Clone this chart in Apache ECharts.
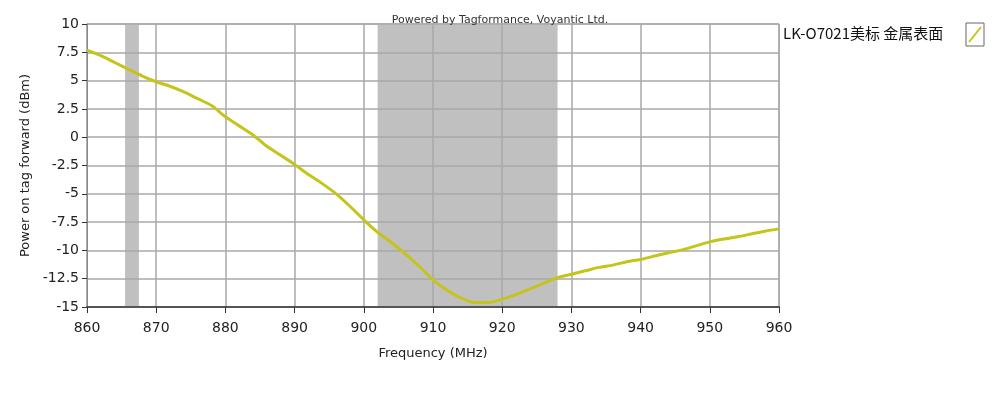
<!DOCTYPE html>
<html><head><meta charset="utf-8">
<script src="https://cdn.jsdelivr.net/npm/echarts@6/dist/echarts.min.js"></script>
<style>html,body{margin:0;padding:0;background:#fff}#c{width:1000px;height:400px}</style>
</head><body><div id="c"></div>
<script>
const freq = [860,862,864,866,868,870,872,874,876,878,880,882,884,886,888,890,892,894,896,898,900,902,904,906,908,910,912,914,916,918,920,922,924,926,928,930,932,934,936,938,940,942,944,946,948,950,952,954,956,958,960];
const power = [7.7,7.2,6.6,6.0,5.4,4.9,4.5,4.0,3.4,2.8,1.8,1.0,0.2,-0.8,-1.6,-2.4,-3.3,-4.1,-5.0,-6.1,-7.3,-8.4,-9.3,-10.3,-11.4,-12.6,-13.5,-14.2,-14.6,-14.6,-14.3,-13.9,-13.4,-12.9,-12.4,-12.1,-11.8,-11.5,-11.3,-11.0,-10.8,-10.5,-10.2,-9.95,-9.6,-9.25,-9.0,-8.8,-8.55,-8.3,-8.1];
const bands = [[865.5,867.5],[902,928]];
const seriesName = 'LK-O7021美标 金属表面';
const titleText = 'Powered by Tagformance, Voyantic Ltd.';
const xName = 'Frequency (MHz)';
const yName = 'Power on tag forward (dBm)';

const font = 'Tahoma, "DejaVu Sans", sans-serif';
const chart = echarts.init(document.getElementById('c'));
chart.setOption({
  animation: false,
  backgroundColor: '#fff',
  title: {text: titleText, left: 495, top: 10, textAlign: 'center',
    textStyle: {fontSize: 11, fontWeight: 'normal', color: '#333', fontFamily: font}},
  grid: {left: 87, right: 221, top: 24, bottom: 93, show: true, borderColor: '#888', borderWidth: 1},
  xAxis: {type: 'value', min: 860, max: 960, interval: 10, z: 5,
    name: xName, nameLocation: 'middle', nameGap: 40,
    nameTextStyle: {fontSize: 13, color: '#222', fontFamily: font},
    axisLine: {onZero: false, lineStyle: {color: '#555', width: 2}},
    axisTick: {show: true, length: 6, lineStyle: {color: '#333'}},
    axisLabel: {fontSize: 14, color: '#222', fontFamily: font, margin: 14},
    splitLine: {show: true, lineStyle: {color: '#a8a8a8', width: 1.5}}},
  yAxis: {type: 'value', min: -15, max: 10, interval: 2.5, z: 5,
    name: yName, nameLocation: 'middle', nameGap: 50, nameRotate: 90,
    nameTextStyle: {fontSize: 13, color: '#222', fontFamily: font},
    axisLine: {show: true, onZero: false, lineStyle: {color: '#888', width: 1}},
    axisTick: {show: true, length: 5, lineStyle: {color: '#333'}},
    axisLabel: {fontSize: 14, color: '#222', fontFamily: font, margin: 8},
    splitLine: {show: true, lineStyle: {color: '#a8a8a8', width: 1.5}}},
  legend: {show: false},
  series: [{
    name: 'bands', type: 'line', data: [], z: 1, silent: true,
    markArea: {silent: true, itemStyle: {color: '#c0c0c0', opacity: 1},
      data: bands.map(b => [{xAxis: b[0]}, {xAxis: b[1]}])}
  }, {
    name: seriesName, type: 'line', showSymbol: false, smooth: 0.3,
    data: freq.map((f, i) => [f, power[i]]),
    lineStyle: {color: '#c4c41a', width: 3},
    z: 10
  }],
  graphic: [
    {type: 'text', left: 783, top: 26, style: {text: seriesName, fontSize: 15, fill: '#111', fontFamily: '"Noto Sans CJK SC", sans-serif'}},
    {type: 'rect', shape: {x: 966, y: 23, width: 18, height: 23}, style: {fill: '#fff', stroke: '#666', lineWidth: 1}},
    {type: 'line', shape: {x1: 969, y1: 42, x2: 981, y2: 27}, style: {stroke: '#c4c41a', lineWidth: 2}}
  ]
});
</script></body></html>
